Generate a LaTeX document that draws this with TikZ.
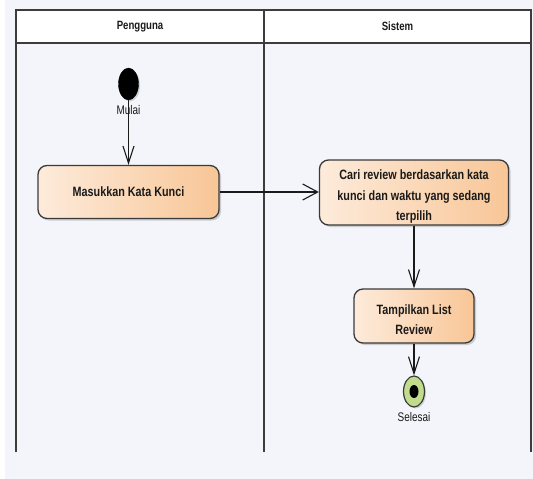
\documentclass[tikz,border=0pt]{standalone}
\usepackage{fontspec}
\setmainfont{Liberation Sans}[FakeStretch=0.8]
\usetikzlibrary{arrows.meta,shadows,shapes.geometric}

\definecolor{pagebg}{HTML}{F3F5FA}
\definecolor{laneline}{HTML}{3C3C3C}
\definecolor{boxlight}{HTML}{FDEBDB}
\definecolor{boxdark}{HTML}{F8C697}
\definecolor{boxborder}{HTML}{3A3A3A}
\definecolor{endgreen}{HTML}{C2DC8E}
\definecolor{inkdark}{HTML}{1A1A1A}

\tikzset{
  lane/.style={draw=laneline, line width=1.6pt},
  lanehead/.style={font=\fontsize{12}{14}\selectfont\bfseries, text=inkdark},
  actbox/.style={draw=boxborder, line width=1.3pt, rounded corners=9pt,
    left color=boxlight, right color=boxdark,
    drop shadow={shadow xshift=2pt, shadow yshift=-2pt, opacity=0.35}},
  boxtext/.style={font=\fontsize{13.5}{20.5}\selectfont\bfseries, text=inkdark, align=center, inner sep=0pt},
  startdot/.style={ellipse, fill=black, draw=black, minimum width=20pt, minimum height=32pt, inner sep=0pt,
    drop shadow={shadow xshift=1.5pt, shadow yshift=-1.5pt, opacity=0.3}},
  enddot/.style={ellipse, fill=endgreen, draw=boxborder, line width=1.2pt, minimum width=21pt, minimum height=31pt, inner sep=0pt,
    drop shadow={shadow xshift=1.5pt, shadow yshift=-1.5pt, opacity=0.3}},
  endcore/.style={ellipse, fill=black, minimum width=9pt, minimum height=13pt, inner sep=0pt},
  statelabel/.style={font=\fontsize{12.5}{14}\selectfont, text=inkdark, inner sep=0pt},
  flow/.style={draw=inkdark, line width=1.1pt},
  hhead/.style={-{Straight Barb[length=15pt,width=16pt,line width=1.1pt]}},
  vhead/.style={-{Straight Barb[length=17pt,width=11pt,line width=1.1pt]}},
}

\begin{document}
\begin{tikzpicture}[x=1pt,y=-1pt]
  \useasboundingbox (0,0) rectangle (533,479);
  % page and swimlanes
  \fill[white] (0,0) rectangle (533,479);
  \fill[pagebg] (5,0) rectangle (533,479);
  \fill[white] (16,10) rectangle (531,43);
  \draw[lane] (16,452) -- (16,10) -- (531,10) -- (531,452);
  \draw[lane] (264,10) -- (264,452);
  \draw[lane] (16,43) -- (531,43);
  \node[lanehead] (hpengguna) at (140,26.5) {Pengguna};
  \node[lanehead] (hsistem) at (397.5,26.5) {Sistem};

  % initial state
  \node[startdot] (start) at (128.5,84) {};
  \node[statelabel] (mulai) at (128.5,110) {Mulai};

  % activities
  \node[actbox, minimum width=181pt, minimum height=53pt] (masuk) at (128.5,192) {};
  \node[boxtext] (masuktext) at (128.5,192) {Masukkan Kata Kunci};

  \node[actbox, minimum width=189pt, minimum height=65pt] (cari) at (414,192.5) {};
  \node[boxtext] (caritext) at (414,197) {Cari review berdasarkan kata\\kunci dan waktu yang sedang\\terpilih};

  \node[actbox, minimum width=120pt, minimum height=54pt] (tamp) at (414,316) {};
  \node[boxtext] (tamptext) at (414,319.5) {Tampilkan List\\Review};

  % final state
  \node[enddot] (final) at (414,391.5) {};
  \node[endcore] (finalcore) at (final.center) {};
  \node[statelabel] (selesai) at (414,417.5) {Selesai};

  % control flow
  \draw[flow, vhead] (start.south) -- (masuk.north);
  \draw[flow, hhead] (masuk.east) -- (masuk.east -| cari.west);
  \draw[flow, vhead] (cari.south) -- (tamp.north);
  \draw[flow, vhead] (tamp.south) -- (final.north);
\end{tikzpicture}
\end{document}
